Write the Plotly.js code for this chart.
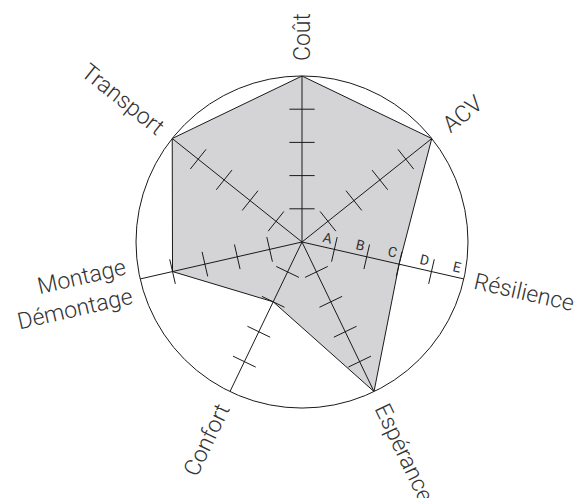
<!DOCTYPE html>
<html>
<head>
<meta charset="utf-8">
<script src="https://cdn.plot.ly/plotly-3.0.1.min.js"></script>
<style>html,body{margin:0;padding:0;background:#fff;}#chart{width:578px;height:498px;}</style>
</head>
<body>
<div id="chart"></div>
<script>
// ---- data ----
const criteria = ["Coût", "ACV", "Résilience", "Espérance", "Confort", "Montage Démontage", "Transport"];
const labels   = ["Coût", "ACV", "Résilience", "Espérance", "Confort", "Montage<br>Démontage", "Transport"];
const scores   = [5, 5, 3, 5, 2, 4, 5];
const gradeLevels = [1, 2, 3, 4, 5];
const gradeLetters = ["A", "B", "C", "D", "E"];
const tickLevels = [1, 2, 3, 4];

// ---- layout geometry ----
const W = 578, H = 498;
const CX = 302, CY = 242, R = 166;
const RMAX = 5;
const n = criteria.length;
const stepDeg = 360 / n;
const labelDist = [205, 205, 228, 234, 219, 236, 229];
const labelAlign = ["center", "center", "center", "center", "center", "right", "center"];
const fontFam = "Roboto, 'Liberation Sans', Arial, sans-serif";
const txtColor = "#333333";

function toPaper(px, py) { return { x: px / W, y: 1 - py / H }; }

const traces = [];
// filled polygon
traces.push({
  type: "scatterpolar", mode: "lines",
  r: scores.concat([scores[0]]), theta: criteria.concat([criteria[0]]),
  fill: "toself", fillcolor: "#d4d4d6",
  line: { color: "#1a1a1a", width: 1 }, hoverinfo: "skip"
});
// spokes
const spR = [], spT = [];
criteria.forEach(c => { spR.push(0, RMAX, null); spT.push(c, c, null); });
traces.push({
  type: "scatterpolar", mode: "lines", r: spR, theta: spT,
  line: { color: "#1a1a1a", width: 1 }, connectgaps: false, hoverinfo: "skip"
});
// tick marks (perpendicular to each spoke)
const tkR = [], tkT = [], tkA = [];
criteria.forEach((c, i) => {
  tickLevels.forEach(l => { tkR.push(l); tkT.push(c); tkA.push(i * stepDeg); });
});
traces.push({
  type: "scatterpolar", mode: "markers", r: tkR, theta: tkT,
  marker: { symbol: "line-ew", size: 18, angle: tkA, color: "#1a1a1a",
            line: { color: "#1a1a1a", width: 1 } },
  hoverinfo: "skip"
});

const annotations = [];
criteria.forEach((c, i) => {
  const a = i * stepDeg;
  const rad = a * Math.PI / 180;
  const d = labelDist[i];
  const p = toPaper(CX + d * Math.sin(rad), CY - d * Math.cos(rad));
  const ang = (a <= 180) ? a - 90 : a - 270;
  annotations.push({
    xref: "paper", yref: "paper", x: p.x, y: p.y, text: labels[i],
    showarrow: false, textangle: ang, xanchor: "center", yanchor: "middle",
    align: labelAlign[i],
    font: { family: fontFam, size: 23, color: txtColor, weight: 300 }
  });
});
// grade letters along the Résilience axis
const gi = criteria.indexOf("Résilience");
const ga = gi * stepDeg * Math.PI / 180;
const dir = [Math.sin(ga), -Math.cos(ga)];
const perp = [dir[1], -dir[0]];
gradeLevels.forEach((g, k) => {
  const rp = (g - 0.27) * R / RMAX;
  const off = 10;
  const p = toPaper(CX + rp * dir[0] + off * perp[0], CY + rp * dir[1] + off * perp[1]);
  annotations.push({
    xref: "paper", yref: "paper", x: p.x, y: p.y, text: gradeLetters[k],
    showarrow: false, textangle: gi * stepDeg - 90, xanchor: "center", yanchor: "middle",
    font: { family: fontFam, size: 14, color: txtColor, weight: 400 }
  });
});

const layout = {
  width: W, height: H,
  margin: { l: 0, r: 0, t: 0, b: 0 },
  paper_bgcolor: "#ffffff",
  showlegend: false,
  polar: {
    domain: { x: [(CX - R) / W, (CX + R) / W], y: [1 - (CY + R) / H, 1 - (CY - R) / H] },
    bgcolor: "#ffffff",
    radialaxis: { range: [0, RMAX], visible: false },
    angularaxis: {
      type: "category", categoryarray: criteria,
      rotation: 90, direction: "clockwise",
      showticklabels: false, ticks: "", showgrid: false,
      showline: true, linecolor: "#1a1a1a", linewidth: 1
    }
  },
  annotations: annotations
};

Plotly.newPlot("chart", traces, layout, { staticPlot: true, displayModeBar: false });
</script>
</body>
</html>
